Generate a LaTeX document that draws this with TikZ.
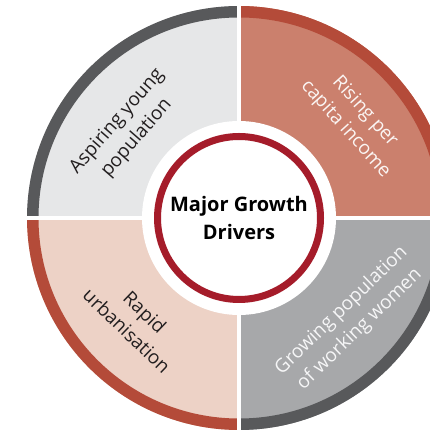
\documentclass[tikz,border=0pt]{standalone}
\usepackage{fontspec}
\setmainfont{Open Sans}
\usepackage{tikz}
\usetikzlibrary{positioning}
\definecolor{youngFill}{HTML}{E6E7E8}
\definecolor{incomeFill}{HTML}{CB806D}
\definecolor{urbanFill}{HTML}{EDD2C6}
\definecolor{womenFill}{HTML}{A7A8AA}
\definecolor{greyRing}{HTML}{58595B}
\definecolor{rustRing}{HTML}{B44B39}
\definecolor{hubRed}{HTML}{A51C2A}
\definecolor{inkDark}{HTML}{231F20}
\tikzset{driver/.style={
        align=center,
        inner sep=0pt,
        font=\fontsize{19}{26}\selectfont
}}
\tikzset{hub/.style={
        draw=hubRed,
        circle,
        line width=7pt,
        fill=white,
        minimum size=163pt,
        align=center,
        font=\bfseries\fontsize{20}{28}\selectfont
}}
\tikzset{band/.style={line width=11.5pt}}
\tikzset{gap/.style={draw=white,line width=4pt}}

\begin{document}
\begin{tikzpicture}[x=1pt,y=1pt]
\useasboundingbox (0,0) rectangle (430,430);
\clip (0,0) rectangle (430,430);
\coordinate (o) at (239,212);

% quadrants
\fill[youngFill] (o) -- ++(90:212pt) arc[start angle=90,end angle=180,radius=212pt] -- cycle;
\fill[incomeFill] (o) -- ++(0:212pt) arc[start angle=0,end angle=90,radius=212pt] -- cycle;
\fill[urbanFill] (o) -- ++(180:212pt) arc[start angle=180,end angle=270,radius=212pt] -- cycle;
\fill[womenFill] (o) -- ++(270:212pt) arc[start angle=270,end angle=360,radius=212pt] -- cycle;

% outer bands
\draw[band,greyRing] (o) ++(90:206.25pt) arc[start angle=90,end angle=180,radius=206.25pt];
\draw[band,rustRing] (o) ++(0:206.25pt) arc[start angle=0,end angle=90,radius=206.25pt];
\draw[band,rustRing] (o) ++(180:206.25pt) arc[start angle=180,end angle=270,radius=206.25pt];
\draw[band,greyRing] (o) ++(270:206.25pt) arc[start angle=270,end angle=360,radius=206.25pt];

\draw[gap] (239,0) -- (239,430);
\draw[gap] (0,211.5) -- (430,211.5);

\fill[white] (o) circle (97pt);
\node[hub] (drivers) at (o) {Major Growth\\Drivers};

\node[driver, text=inkDark, rotate=49] (young) at (127,300) {Aspiring young\\population};
\node[driver, text=white!92!incomeFill, rotate=-48] (income) at (355,309.5) {Rising per\\capita income};
\node[driver, text=inkDark, rotate=-44] (urban) at (136,108.5) {Rapid\\urbanisation};
\node[driver, text=white!90!womenFill, rotate=44] (women) at (350.5,110) {Growing population\\of working women};
\end{tikzpicture}
\end{document}
